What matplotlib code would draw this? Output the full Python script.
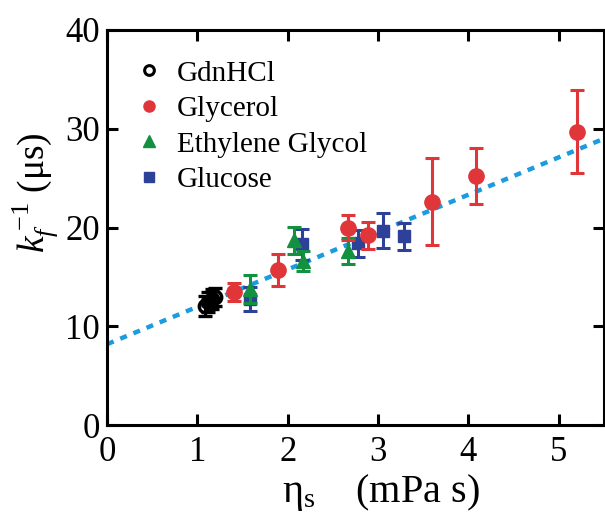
import matplotlib
matplotlib.use("Agg")
import matplotlib.pyplot as plt
from matplotlib.lines import Line2D
import numpy as np

plt.rcParams['font.family'] = ['Liberation Serif', 'DejaVu Serif']
plt.rcParams['mathtext.fontset'] = 'custom'
plt.rcParams['mathtext.rm'] = 'Liberation Serif'
plt.rcParams['mathtext.it'] = 'Liberation Serif:italic'

# Data (viscosity in mPa s, k_f^-1 in microseconds)
gdn_x = [1.08, 1.12, 1.16, 1.19]
gdn_y = [12.1, 12.5, 12.8, 13.0]
gdn_e = [1.0, 1.0, 1.0, 0.9]

gly_x = [1.40, 1.89, 2.67, 2.89, 3.60, 4.08, 5.20]
gly_y = [13.5, 15.7, 20.0, 19.2, 22.6, 25.2, 29.7]
gly_e = [0.9, 1.6, 1.3, 1.4, 4.4, 2.85, 4.2]

eg_x = [1.58, 2.07, 2.17, 2.67]
eg_y = [13.8, 18.7, 16.6, 17.6]
eg_e = [1.4, 1.4, 1.0, 1.3]

glu_x = [1.58, 2.16, 2.78, 3.06, 3.29]
glu_y = [12.8, 18.3, 18.4, 19.7, 19.1]
glu_e = [1.2, 1.6, 1.4, 1.8, 1.4]

fit_intercept = 8.2
fit_slope = 3.78

legend_labels = ['GdnHCl', 'Glycerol', 'Ethylene Glycol', 'Glucose']

fig = plt.figure(figsize=(6.05, 5.16), dpi=100)
ax = fig.add_axes([0.177, 0.176, 0.821, 0.766])

red = '#e0363a'
green = '#139040'
blue = '#2c4197'

xf = np.array([0, 5.5])
ax.plot(xf, fit_intercept + fit_slope * xf, color='#1b9be0', lw=3.2,
        dashes=(1.6, 1.6), zorder=1)

ekw = dict(ls='none', elinewidth=2.2, capsize=5, capthick=2.2)
ax.errorbar(glu_x, glu_y, yerr=glu_e, fmt='s', color=blue, ms=9, zorder=3, **ekw)
ax.errorbar(eg_x, eg_y, yerr=eg_e, fmt='^', color=green, ms=10, zorder=4, **ekw)
ax.errorbar(gly_x, gly_y, yerr=gly_e, fmt='o', color=red, ms=11, zorder=5, **ekw)
ax.errorbar(gdn_x, gdn_y, yerr=gdn_e, fmt='o', color='black', mfc='none',
            mew=2.4, ms=9, zorder=6, **ekw)

ax.set_xlim(0, 5.5)
ax.set_ylim(0, 40)
ax.set_xticks([0, 1, 2, 3, 4, 5])
ax.set_yticks([0, 10, 20, 30, 40])
ax.tick_params(direction='in', length=8, width=2.2, labelsize=25,
               right=True, top=True)
ax.tick_params(axis='x', pad=8)
ax.tick_params(axis='y', pad=5)
for s in ax.spines.values():
    s.set_linewidth(2.2)

fig.text(36 / 605, 1 - 193 / 516, r'$k_f^{\,\mathrm{-1}}$ (μs)', fontsize=27,
         rotation=90, ha='center', va='center')
fig.text(381 / 605, 3 / 516, r'η$_\mathrm{s}$    (mPa s)', fontsize=29,
         ha='center', va='bottom')

leg_handles = [
    Line2D([], [], marker='o', ls='none', mfc='none', mec='black', mew=2.2, ms=7),
    Line2D([], [], marker='o', ls='none', color=red, ms=8),
    Line2D([], [], marker='^', ls='none', color=green, ms=8),
    Line2D([], [], marker='s', ls='none', color=blue, ms=7),
]
ax.legend(leg_handles, legend_labels,
          loc='upper left', bbox_to_anchor=(0.0, 0.975), frameon=False,
          fontsize=21, handletextpad=0.2, handlelength=1.5,
          labelspacing=0.31, borderaxespad=0.3)

fig.savefig('out.png', dpi=100)
